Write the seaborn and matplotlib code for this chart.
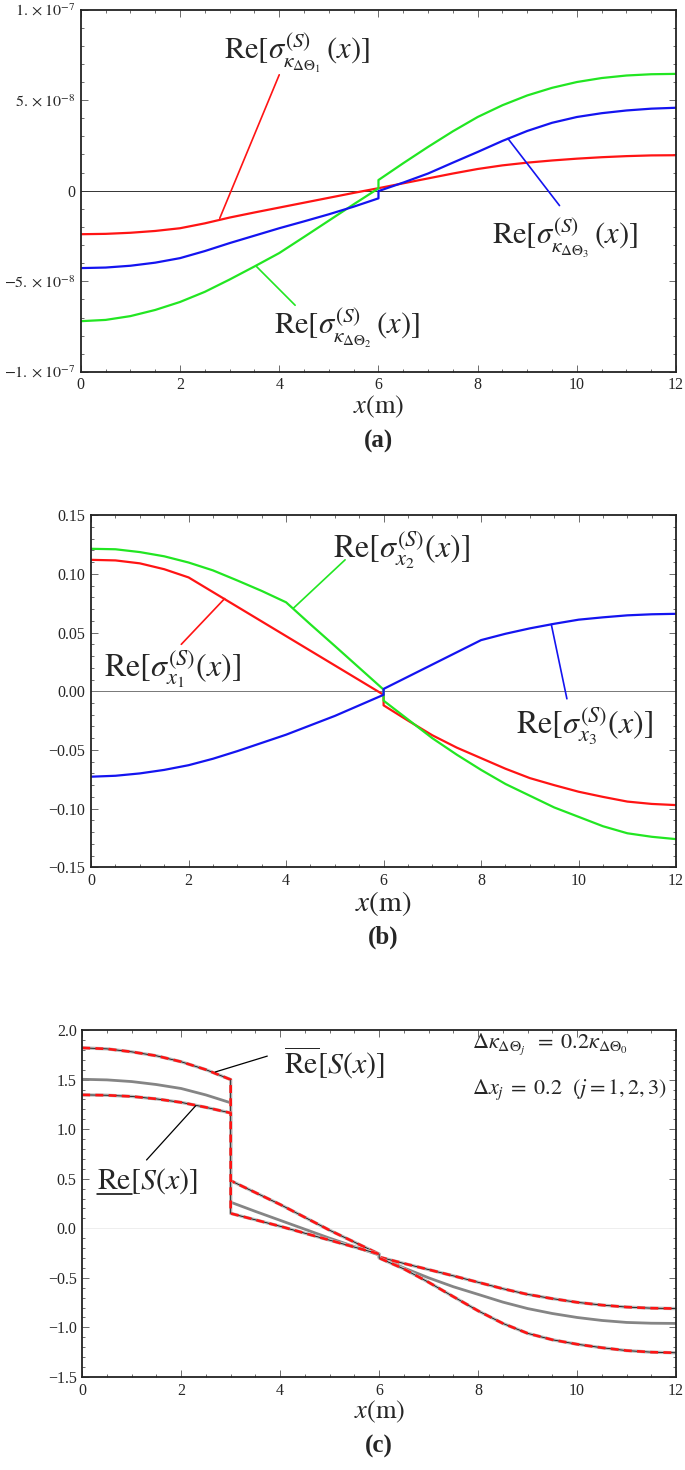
import numpy as np
import pandas as pd
import matplotlib
matplotlib.use("Agg")
import matplotlib.pyplot as plt
import seaborn as sns
from matplotlib.ticker import AutoMinorLocator, FixedLocator, FixedFormatter
from matplotlib.lines import Line2D

sns.set_style("ticks")
plt.rcParams['font.family'] = ['Liberation Serif', 'DejaVu Serif']
plt.rcParams['mathtext.fontset'] = 'stix'

# ---------------- data ----------------
# panel (a): values in units of 1e-8 (jump at x = 6)
xa = [0, 0.5, 1, 1.5, 2, 2.5, 3, 3.5, 4, 4.5, 5, 5.5, 6,
      6, 6.5, 7, 7.5, 8, 8.5, 9, 9.5, 10, 10.5, 11, 11.5, 12]
a_red = [-2.40, -2.38, -2.32, -2.22, -2.07, -1.80, -1.48, -1.20, -0.93, -0.66, -0.39, -0.12, 0.14,
         0.14, 0.41, 0.68, 0.95, 1.20, 1.40, 1.55, 1.67, 1.77, 1.85, 1.91, 1.95, 1.96]
a_green = [-7.20, -7.13, -6.92, -6.58, -6.14, -5.58, -4.90, -4.18, -3.44, -2.55, -1.65, -0.75, 0.13,
           0.59, 1.52, 2.42, 3.28, 4.07, 4.72, 5.26, 5.68, 6.00, 6.22, 6.36, 6.43, 6.45]
a_blue = [-4.27, -4.24, -4.14, -3.97, -3.72, -3.33, -2.89, -2.48, -2.07, -1.69, -1.30, -0.88, -0.42,
          -0.02, 0.45, 0.95, 1.55, 2.14, 2.75, 3.30, 3.75, 4.07, 4.28, 4.43, 4.53, 4.58]
a_yticks = [-10, -5, 0, 5, 10]
a_yticklabels = [r"$-1.\times10^{-7}$", r"$-5.\times10^{-8}$", "0",
                 r"$5.\times10^{-8}$", r"$1.\times10^{-7}$"]

# panel (b) (jump at x = 6)
xb = [0, 0.5, 1, 1.5, 2, 2.5, 3, 3.5, 4, 4.5, 5, 5.5, 6,
      6, 6.5, 7, 7.5, 8, 8.5, 9, 9.5, 10, 10.5, 11, 11.5, 12]
b_red = [0.112, 0.1115, 0.109, 0.104, 0.097, 0.0845, 0.072, 0.0595, 0.047, 0.0345, 0.022, 0.0095, -0.003,
         -0.012, -0.025, -0.0375, -0.048, -0.057, -0.066, -0.074, -0.080, -0.0856, -0.090, -0.094, -0.096, -0.097]
b_green = [0.1214, 0.121, 0.1186, 0.115, 0.1097, 0.103, 0.0944, 0.0855, 0.0758, 0.057, 0.0386, 0.020, 0.0014,
           -0.008, -0.024, -0.040, -0.054, -0.067, -0.079, -0.089, -0.099, -0.107, -0.115, -0.121, -0.124, -0.126]
b_blue = [-0.0728, -0.072, -0.070, -0.067, -0.063, -0.0575, -0.051, -0.044, -0.037, -0.029, -0.021, -0.012, -0.003,
          0.002, 0.0124, 0.0228, 0.0332, 0.0436, 0.049, 0.0536, 0.0575, 0.061, 0.063, 0.0647, 0.0656, 0.066]
b_yticks = [-0.15, -0.10, -0.05, 0.00, 0.05, 0.10, 0.15]
b_yticklabels = ["\u22120.15", "\u22120.10", "\u22120.05", "0.00", "0.05", "0.10", "0.15"]

# panel (c) (jumps at x = 3 and x = 6)
xc = [0, 0.5, 1, 1.5, 2, 2.5, 3,
      3, 3.5, 4, 4.5, 5, 5.5, 6,
      6, 6.5, 7, 7.5, 8, 8.5, 9, 9.5, 10, 10.5, 11, 11.5, 12]
c_mean = [1.503, 1.497, 1.48, 1.45, 1.41, 1.345, 1.266,
          0.263, 0.17, 0.08, -0.01, -0.10, -0.185, -0.27,
          -0.29, -0.40, -0.50, -0.59, -0.667, -0.745, -0.81, -0.86, -0.90, -0.93, -0.95, -0.958, -0.96]
c_upper = [1.82, 1.81, 1.78, 1.74, 1.68, 1.60, 1.50,
           0.48, 0.36, 0.24, 0.11, -0.02, -0.14, -0.26,
           -0.29, -0.355, -0.417, -0.48, -0.545, -0.61, -0.667, -0.71, -0.747, -0.775, -0.795, -0.806, -0.81]
c_lower = [1.346, 1.342, 1.33, 1.305, 1.27, 1.22, 1.163,
           0.15, 0.085, 0.02, -0.05, -0.12, -0.19, -0.26,
           -0.30, -0.41, -0.545, -0.69, -0.833, -0.96, -1.06, -1.125, -1.17, -1.205, -1.234, -1.25, -1.256]
c_yticks = [-1.5, -1.0, -0.5, 0.0, 0.5, 1.0, 1.5, 2.0]
c_yticklabels = ["\u22121.5", "\u22121.0", "\u22120.5", "0.0", "0.5", "1.0", "1.5", "2.0"]

x_ticks = [0, 2, 4, 6, 8, 10, 12]
x_ticklabels = ["0", "2", "4", "6", "8", "10", "12"]

RED = "#ff1414"
GREEN = "#22e622"
BLUE = "#1414f0"
GRAY = "#858585"

# ---------------- figure ----------------
fig = plt.figure(figsize=(6.85, 14.7), dpi=100)
axA = fig.add_axes([0.118, 0.747, 0.869, 0.2465])
axB = fig.add_axes([0.133, 0.410, 0.854, 0.2395])
axC = fig.add_axes([0.120, 0.0633, 0.867, 0.236])


def draw(ax, x, y, color, lw, **kw):
    sns.lineplot(x=x, y=y, ax=ax, color=color, lw=lw, estimator=None,
                 sort=False, legend=False, **kw)


def style(ax, ylim, yticks, ylabels, yminor, xlab_fs=19):
    ax.set_xlim(0, 12)
    ax.set_ylim(*ylim)
    ax.xaxis.set_major_locator(FixedLocator(x_ticks))
    ax.xaxis.set_major_formatter(FixedFormatter(x_ticklabels))
    ax.yaxis.set_major_locator(FixedLocator(yticks))
    ax.yaxis.set_major_formatter(FixedFormatter(ylabels))
    ax.xaxis.set_minor_locator(AutoMinorLocator(4))
    ax.yaxis.set_minor_locator(AutoMinorLocator(yminor))
    ax.tick_params(which='both', direction='in', top=True, right=True,
                   width=0.6, color='#555555', labelsize=11.5, pad=4)
    ax.tick_params(which='major', length=5)
    ax.tick_params(which='minor', length=2.5)
    for s in ax.spines.values():
        s.set_linewidth(1.3)
        s.set_color('#222222')
    ax.set_xlabel(r"$x\mathrm{(m)}$", fontsize=xlab_fs, labelpad=0)
    ax.set_ylabel("")


LINE = dict(arrowstyle='-', lw=1.2, shrinkA=0, shrinkB=0)

# ---- (a)
axA.axhline(0, color='#333333', lw=0.7, zorder=1)
draw(axA, xa, a_red, RED, 1.6)
draw(axA, xa, a_green, GREEN, 1.6)
draw(axA, xa, a_blue, BLUE, 1.6)
style(axA, (-10, 10), a_yticks, a_yticklabels, 5)

fsA = 22
axA.annotate("", xy=(2.8, -1.52), xytext=(4.0, 6.4), arrowprops=dict(LINE, color=RED))
axA.text(4.35, 7.6, r"$\mathrm{Re}[\sigma^{(S)}_{\kappa_{\Delta\Theta_1}}\,(x)]$",
         fontsize=fsA, ha='center', va='center')
axA.annotate("", xy=(3.54, -4.18), xytext=(4.32, -6.32), arrowprops=dict(LINE, color=GREEN))
axA.text(5.36, -7.6, r"$\mathrm{Re}[\sigma^{(S)}_{\kappa_{\Delta\Theta_2}}\,(x)]$",
         fontsize=fsA, ha='center', va='center')
axA.annotate("", xy=(8.61, 2.88), xytext=(9.65, -0.82), arrowprops=dict(LINE, color=BLUE))
axA.text(9.76, -2.62, r"$\mathrm{Re}[\sigma^{(S)}_{\kappa_{\Delta\Theta_3}}\,(x)]$",
         fontsize=fsA, ha='center', va='center')

# ---- (b)
axB.axhline(0, color='#777777', lw=0.7, zorder=1)
draw(axB, xb, b_red, RED, 1.6)
draw(axB, xb, b_green, GREEN, 1.6)
draw(axB, xb, b_blue, BLUE, 1.6)
style(axB, (-0.15, 0.15), b_yticks, b_yticklabels, 5, xlab_fs=21)

fsB = 23
axB.annotate("", xy=(4.15, 0.0708), xytext=(5.21, 0.112), arrowprops=dict(LINE, color=GREEN))
axB.text(6.37, 0.121, r"$\mathrm{Re}[\sigma^{(S)}_{x_2}(x)]$",
         fontsize=fsB, ha='center', va='center')
axB.annotate("", xy=(2.74, 0.079), xytext=(1.85, 0.040), arrowprops=dict(LINE, color=RED))
axB.text(1.67, 0.019, r"$\mathrm{Re}[\sigma^{(S)}_{x_1}(x)]$",
         fontsize=fsB, ha='center', va='center')
axB.annotate("", xy=(9.44, 0.057), xytext=(9.76, -0.0064), arrowprops=dict(LINE, color=BLUE))
axB.text(10.13, -0.029, r"$\mathrm{Re}[\sigma^{(S)}_{x_3}(x)]$",
         fontsize=fsB, ha='center', va='center')

# ---- (c)
axC.axhline(0, color='#eeeeee', lw=0.7, zorder=1)
draw(axC, xc, c_mean, GRAY, 2.0)
for series in (c_upper, c_lower):
    draw(axC, xc, series, '#bdbdbd', 2.4)
    draw(axC, xc, series, '#111111', 0.6)
    draw(axC, xc, series, RED, 1.9, linestyle=(0, (3, 2)))
style(axC, (-1.5, 2.0), c_yticks, c_yticklabels, 5)

fsC = 21.5
axC.annotate("", xy=(2.69, 1.577), xytext=(3.74, 1.737),
             arrowprops=dict(LINE, color='black', lw=0.9))
axC.text(5.09, 1.667, r"$\overline{\mathrm{Re}}[S(x)]$",
         fontsize=fsC, ha='center', va='center')
axC.annotate("", xy=(2.29, 1.234), xytext=(1.30, 0.689),
             arrowprops=dict(LINE, color='black', lw=0.9))
under_txt = axC.text(1.32, 0.474, r"$\mathrm{Re}[S(x)]$",
                     fontsize=fsC, ha='center', va='center')
axC.text(7.88, 1.86, r"$\Delta\kappa_{\Delta\Theta_j}\;\;=\;0.2\kappa_{\Delta\Theta_0}$",
         fontsize=16, ha='left', va='center')
axC.text(7.88, 1.40, r"$\Delta x_j\;=\;0.2\ \ (j=1,2,3)$",
         fontsize=16, ha='left', va='center')

# panel captions
for ax, lab in ((axA, "(a)"), (axB, "(b)"), (axC, "(c)")):
    pos = ax.get_position()
    cx = pos.x0 + pos.width / 2
    fig.text(cx, pos.y0 - 0.0475, lab, fontsize=18, fontweight='bold',
             ha='center', va='center')

# underline the "Re" of the lower-bound label
fig.canvas.draw()
renderer = fig.canvas.get_renderer()
full_bb = under_txt.get_window_extent(renderer)
tmp = axC.text(1.32, 0.474, r"$\mathrm{Re}$", fontsize=fsC, ha='center', va='center')
re_bb = tmp.get_window_extent(renderer)
tmp.remove()
W, H = fig.get_size_inches() * fig.dpi
y_line = full_bb.y0 + 2.5
fig.add_artist(Line2D([full_bb.x0 / W, (full_bb.x0 + re_bb.width) / W],
                      [y_line / H, y_line / H], color='black', lw=1.1,
                      transform=fig.transFigure))

fig.savefig("out.png", dpi=100)
